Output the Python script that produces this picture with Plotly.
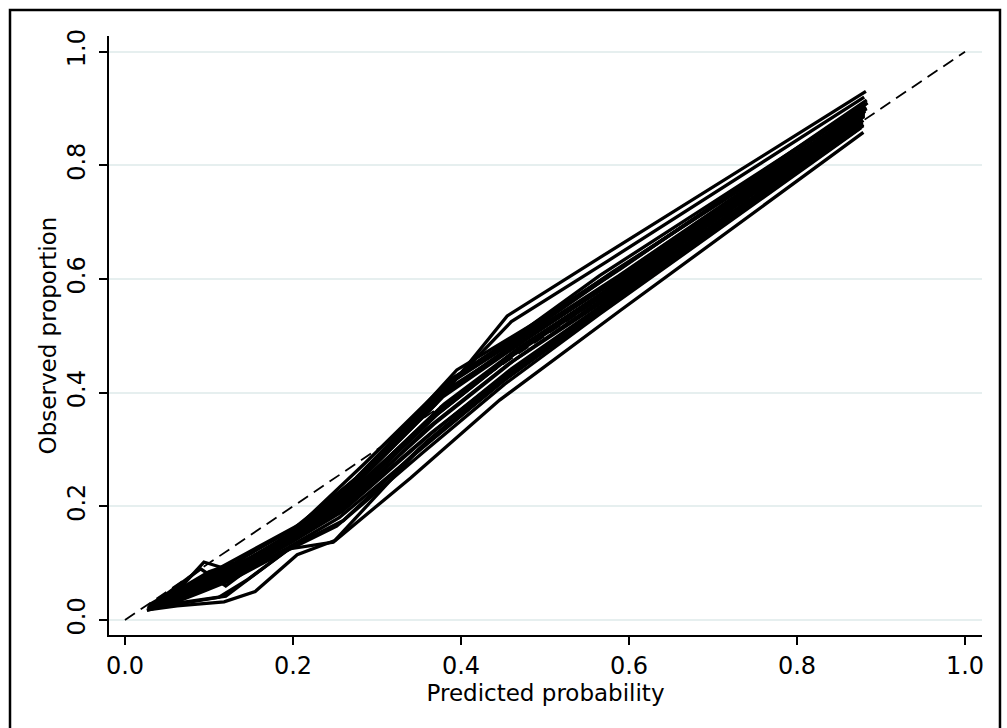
import plotly.graph_objects as go

# Calibration curves: decile means of predicted probability vs observed proportion,
# one curve per imputed dataset.
pred = [
    [0.030, 0.068, 0.094, 0.125, 0.205, 0.275, 0.370, 0.455, 0.570, 0.882],
    [0.028, 0.066, 0.100, 0.130, 0.200, 0.280, 0.375, 0.460, 0.575, 0.880],
    [0.032, 0.070, 0.098, 0.135, 0.210, 0.285, 0.385, 0.480, 0.565, 0.878],
    [0.027, 0.062, 0.118, 0.155, 0.205, 0.250, 0.350, 0.450, 0.580, 0.879],
    [0.029, 0.064, 0.120, 0.150, 0.195, 0.248, 0.340, 0.446, 0.590, 0.879],
    [0.030, 0.068, 0.104, 0.140, 0.210, 0.270, 0.380, 0.470, 0.585, 0.881],
    [0.031, 0.070, 0.102, 0.145, 0.205, 0.275, 0.390, 0.475, 0.580, 0.883],
    [0.027, 0.063, 0.096, 0.132, 0.198, 0.262, 0.365, 0.465, 0.575, 0.878],
    [0.029, 0.066, 0.099, 0.138, 0.202, 0.268, 0.372, 0.462, 0.578, 0.880],
    [0.033, 0.072, 0.106, 0.150, 0.215, 0.290, 0.395, 0.485, 0.595, 0.884],
    [0.028, 0.064, 0.097, 0.128, 0.195, 0.255, 0.360, 0.458, 0.572, 0.877],
    [0.030, 0.067, 0.101, 0.136, 0.200, 0.265, 0.370, 0.468, 0.582, 0.881],
    [0.031, 0.069, 0.103, 0.142, 0.208, 0.278, 0.382, 0.472, 0.588, 0.882],
    [0.026, 0.061, 0.093, 0.126, 0.190, 0.252, 0.355, 0.452, 0.565, 0.876],
    [0.029, 0.065, 0.098, 0.133, 0.199, 0.263, 0.368, 0.466, 0.576, 0.880],
    [0.032, 0.071, 0.105, 0.148, 0.212, 0.285, 0.390, 0.478, 0.590, 0.883],
    [0.030, 0.066, 0.100, 0.137, 0.203, 0.270, 0.375, 0.470, 0.580, 0.880],
    [0.028, 0.063, 0.095, 0.130, 0.196, 0.258, 0.362, 0.460, 0.570, 0.878],
    [0.031, 0.068, 0.102, 0.140, 0.206, 0.272, 0.378, 0.474, 0.584, 0.881],
    [0.029, 0.067, 0.090, 0.120, 0.200, 0.266, 0.368, 0.463, 0.575, 0.880],
    [0.030, 0.065, 0.112, 0.145, 0.200, 0.260, 0.360, 0.455, 0.568, 0.879],
    [0.027, 0.064, 0.097, 0.131, 0.197, 0.264, 0.372, 0.468, 0.578, 0.881],
    [0.033, 0.070, 0.104, 0.143, 0.209, 0.280, 0.385, 0.476, 0.586, 0.882],
    [0.028, 0.064, 0.099, 0.134, 0.201, 0.268, 0.370, 0.464, 0.577, 0.880],
    [0.030, 0.067, 0.101, 0.139, 0.204, 0.276, 0.388, 0.481, 0.592, 0.882],
    [0.029, 0.065, 0.098, 0.134, 0.199, 0.260, 0.358, 0.456, 0.571, 0.879],
]
obs = [
    [0.028, 0.060, 0.102, 0.088, 0.150, 0.240, 0.380, 0.535, 0.642, 0.930],
    [0.025, 0.055, 0.085, 0.100, 0.160, 0.255, 0.395, 0.525, 0.632, 0.920],
    [0.024, 0.050, 0.080, 0.110, 0.170, 0.275, 0.420, 0.515, 0.606, 0.905],
    [0.018, 0.025, 0.032, 0.050, 0.115, 0.140, 0.300, 0.420, 0.560, 0.870],
    [0.020, 0.030, 0.042, 0.075, 0.125, 0.137, 0.250, 0.387, 0.545, 0.858],
    [0.022, 0.048, 0.070, 0.095, 0.150, 0.225, 0.380, 0.480, 0.590, 0.895],
    [0.026, 0.058, 0.078, 0.105, 0.160, 0.250, 0.425, 0.505, 0.612, 0.900],
    [0.020, 0.040, 0.060, 0.085, 0.140, 0.200, 0.330, 0.445, 0.560, 0.880],
    [0.023, 0.047, 0.072, 0.098, 0.152, 0.225, 0.365, 0.470, 0.585, 0.892],
    [0.027, 0.055, 0.075, 0.110, 0.165, 0.270, 0.440, 0.520, 0.625, 0.910],
    [0.019, 0.035, 0.055, 0.075, 0.128, 0.180, 0.310, 0.430, 0.548, 0.872],
    [0.024, 0.052, 0.068, 0.092, 0.145, 0.215, 0.360, 0.475, 0.588, 0.898],
    [0.025, 0.053, 0.076, 0.102, 0.158, 0.245, 0.400, 0.495, 0.606, 0.903],
    [0.017, 0.032, 0.050, 0.070, 0.120, 0.165, 0.295, 0.415, 0.538, 0.866],
    [0.021, 0.044, 0.064, 0.090, 0.142, 0.205, 0.345, 0.460, 0.572, 0.886],
    [0.026, 0.056, 0.082, 0.108, 0.162, 0.262, 0.425, 0.510, 0.618, 0.915],
    [0.022, 0.046, 0.066, 0.094, 0.148, 0.222, 0.372, 0.478, 0.586, 0.893],
    [0.020, 0.038, 0.058, 0.080, 0.135, 0.190, 0.325, 0.442, 0.556, 0.876],
    [0.024, 0.050, 0.074, 0.100, 0.155, 0.235, 0.392, 0.490, 0.600, 0.899],
    [0.023, 0.065, 0.090, 0.060, 0.148, 0.212, 0.358, 0.472, 0.582, 0.890],
    [0.020, 0.028, 0.040, 0.070, 0.130, 0.175, 0.315, 0.432, 0.550, 0.872],
    [0.021, 0.042, 0.062, 0.087, 0.142, 0.210, 0.362, 0.474, 0.583, 0.896],
    [0.027, 0.054, 0.079, 0.104, 0.160, 0.252, 0.415, 0.502, 0.615, 0.908],
    [0.022, 0.045, 0.068, 0.093, 0.147, 0.218, 0.365, 0.468, 0.578, 0.888],
    [0.025, 0.052, 0.073, 0.101, 0.156, 0.248, 0.410, 0.498, 0.604, 0.902],
    [0.021, 0.040, 0.061, 0.084, 0.138, 0.195, 0.335, 0.450, 0.562, 0.879],
]

ref_line = [0.0, 1.0]
tick_vals = [0.0, 0.2, 0.4, 0.6, 0.8, 1.0]
tick_text = ["0.0", "0.2", "0.4", "0.6", "0.8", "1.0"]

FONT = "DejaVu Sans"

fig = go.Figure()

for xs, ys in zip(pred, obs):
    fig.add_trace(go.Scatter(
        x=xs, y=ys, mode="lines",
        line=dict(color="black", width=3.3),
        hoverinfo="skip", showlegend=False,
    ))

# Perfect-calibration reference
fig.add_trace(go.Scatter(
    x=ref_line, y=ref_line, mode="lines",
    line=dict(color="black", width=1.8, dash="12px,7px"),
    hoverinfo="skip", showlegend=False,
))

fig.update_layout(
    width=1007, height=728,
    margin=dict(l=109, r=25, t=36, b=93),
    paper_bgcolor="white", plot_bgcolor="white",
    font=dict(family=FONT, size=22, color="black"),
    xaxis=dict(
        range=[-0.019, 1.0202],
        tickvals=tick_vals, ticktext=tick_text,
        tickfont=dict(family=FONT, size=24),
        ticks="outside", ticklen=8, tickwidth=1.5, tickcolor="black",
        showline=True, linecolor="black", linewidth=1.5,
        showgrid=False, zeroline=False,
        title=dict(text="Predicted probability", standoff=0,
                   font=dict(family=FONT, size=23)),
    ),
    yaxis=dict(
        range=[-0.0264, 1.0276],
        tickvals=tick_vals, ticktext=tick_text, tickangle=-90,
        tickfont=dict(family=FONT, size=24),
        ticklabelstandoff=5,
        ticks="outside", ticklen=8, tickwidth=1.5, tickcolor="black",
        showline=True, linecolor="black", linewidth=1.5,
        showgrid=True, gridcolor="#e6efef", gridwidth=2,
        zeroline=False,
        title=dict(text="Observed proportion", standoff=0,
                   font=dict(family=FONT, size=23)),
    ),
    shapes=[dict(
        type="rect", xref="paper", yref="paper",
        x0=-0.1134, x1=1.0206, y0=-0.25, y1=1.0434,
        line=dict(color="black", width=2.5), fillcolor="rgba(0,0,0,0)",
        layer="below",
    )],
)

fig.write_html("out.html")
